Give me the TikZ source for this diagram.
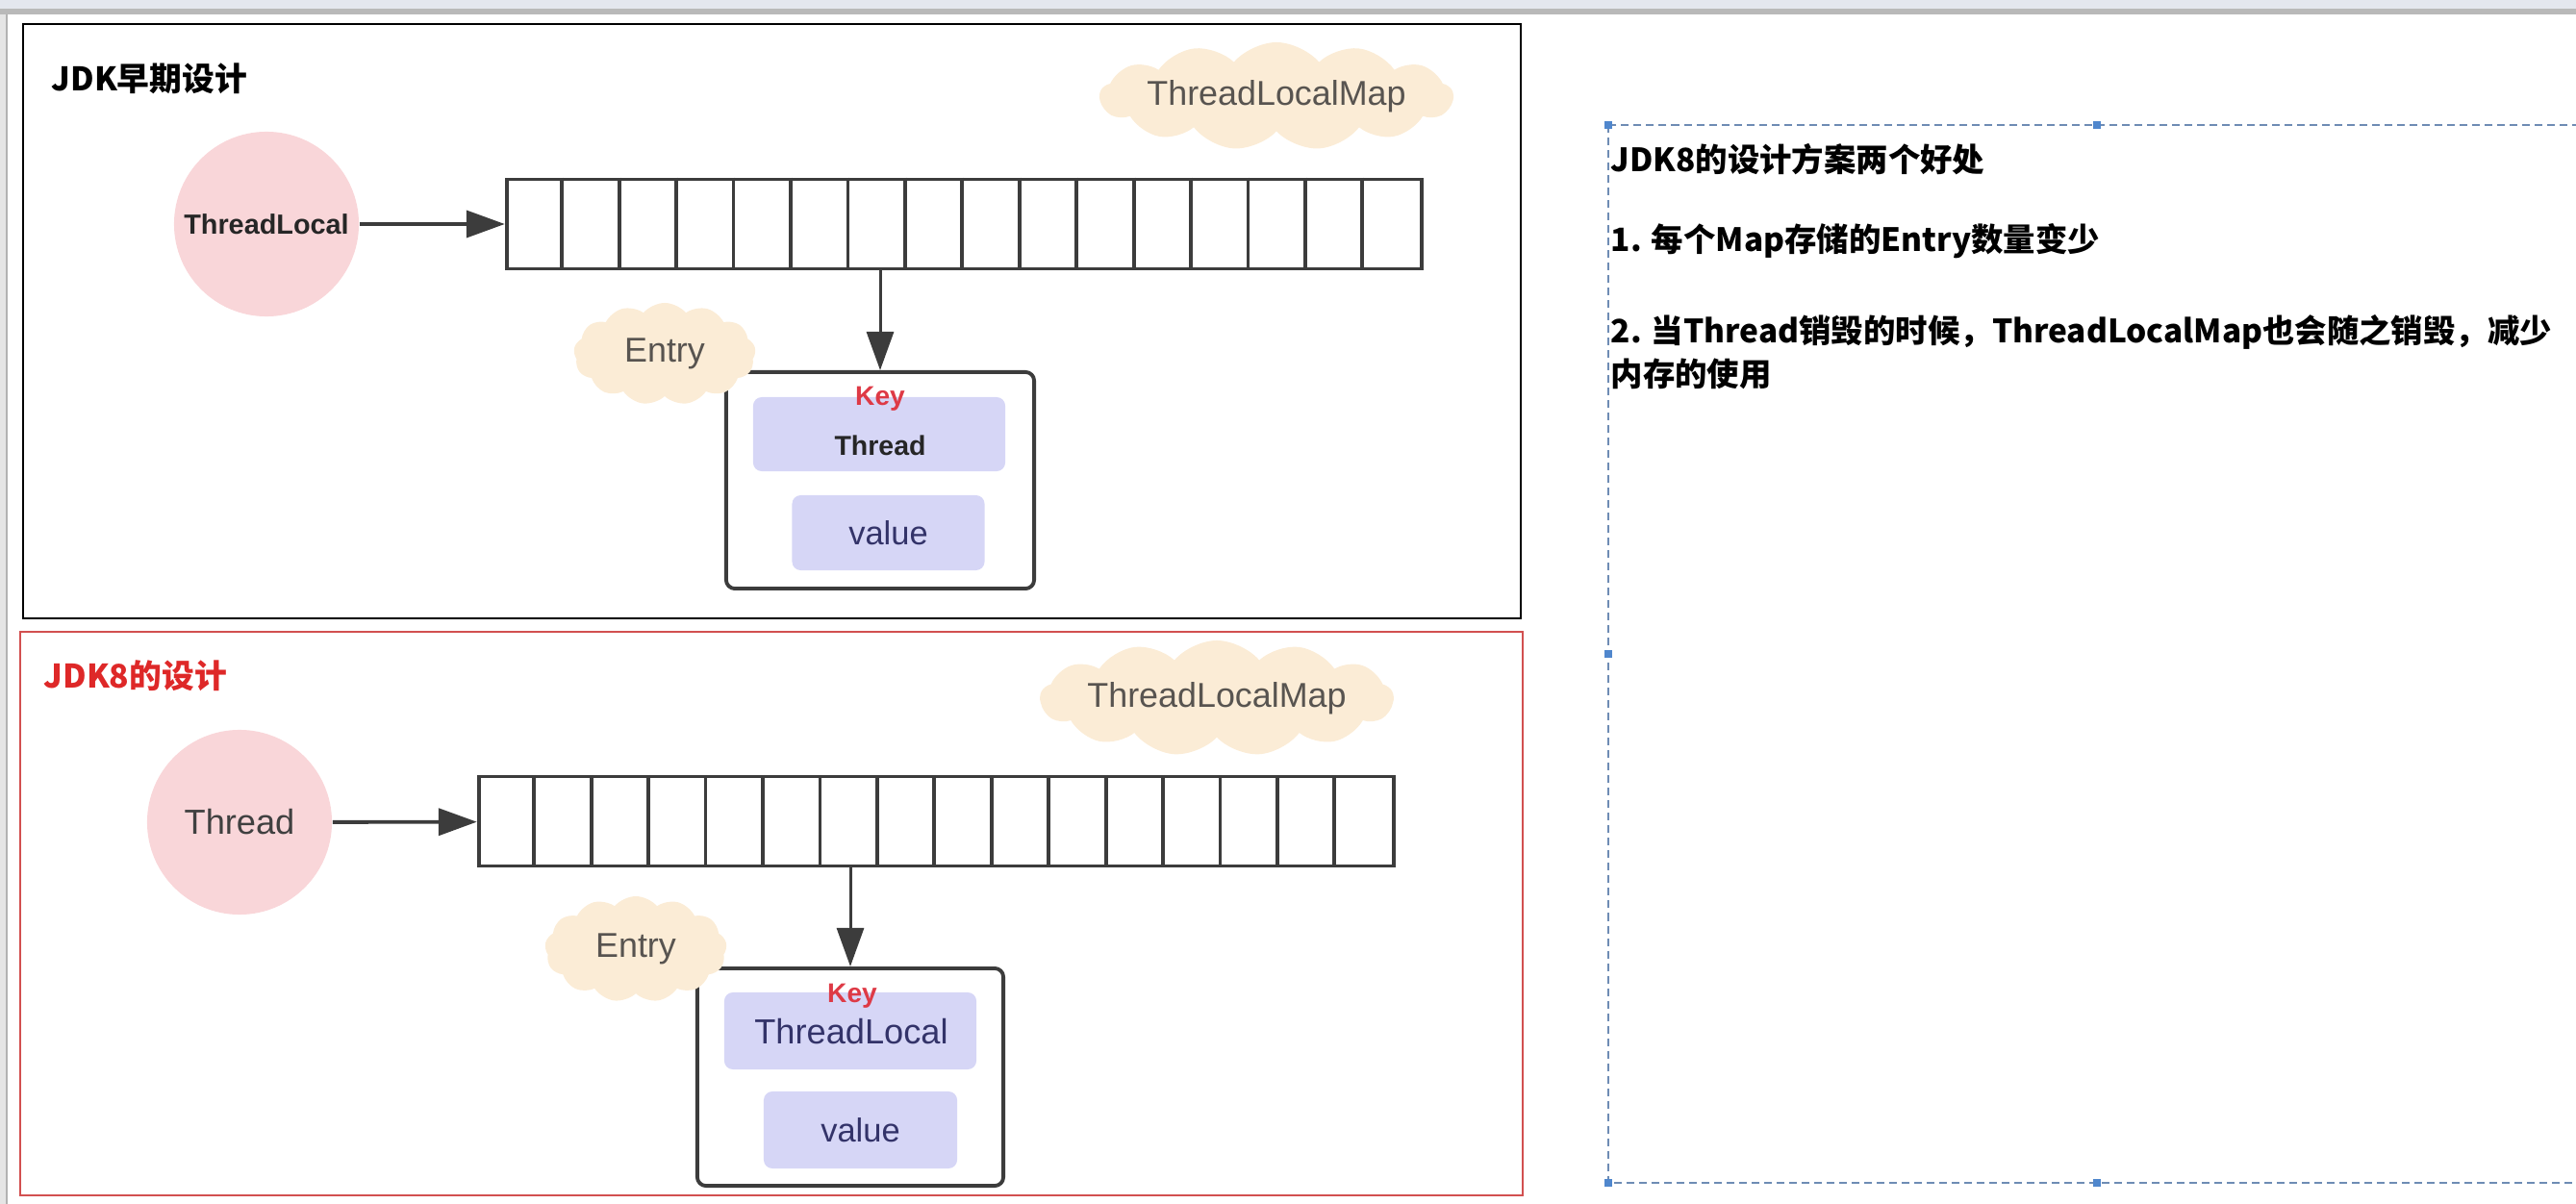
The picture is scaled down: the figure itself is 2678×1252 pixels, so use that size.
\documentclass[tikz,border=0pt]{standalone}
\usepackage{fontspec}
\setmainfont{Liberation Sans}
\newfontfamily\cjk{Noto Sans CJK SC}
\usetikzlibrary{shapes.symbols}
\usetikzlibrary{arrows.meta}
\usetikzlibrary{calc}

\definecolor{circlepink}{RGB}{249,214,217}
\definecolor{cloudtan}{RGB}{251,236,214}
\definecolor{keyblue}{RGB}{214,214,246}
\definecolor{linegrey}{RGB}{60,60,60}
\definecolor{labelgrey}{RGB}{88,84,80}
\definecolor{keyred}{RGB}{222,58,70}
\definecolor{framered}{RGB}{210,80,80}
\definecolor{titlered}{RGB}{222,40,40}
\definecolor{dashblue}{RGB}{110,140,180}
\definecolor{handleblue}{RGB}{80,135,205}
\definecolor{barlight}{RGB}{228,231,238}

\tikzset{
    obj/.style={circle, fill=circlepink, minimum size=1.92cm, inner sep=0pt},
    bubble/.style={cloud, cloud puffs=13, cloud puff arc=100, cloud ignores aspect, fill=cloudtan, inner sep=0pt},
    bubbletext/.style={text=labelgrey, inner sep=0pt, font=\fontsize{10.2}{12}\selectfont},
    slots/.style={draw=linegrey, line width=1.1pt, minimum width=9.51cm, minimum height=0.93cm, inner sep=0pt},
    entrybox/.style={draw=linegrey, line width=1.1pt, rounded corners=0.09cm, minimum width=3.2cm, minimum height=2.25cm, inner sep=0pt},
    field/.style={fill=keyblue, rounded corners=0.09cm, inner sep=0pt},
    arr/.style={draw=linegrey, -{Triangle[length=0.4cm,width=0.28cm]}},
    keylabel/.style={text=keyred, inner sep=0pt, font=\bfseries\fontsize{8}{10}\selectfont},
    title/.style={anchor=west, inner sep=0pt, font=\cjk\bfseries\fontsize{9.6}{12}\selectfont},
    note/.style={anchor=west, inner sep=0pt, font=\cjk\bfseries\fontsize{9.5}{12}\selectfont},
}

\begin{document}
\begin{tikzpicture}[x=0.01cm, y=-0.01cm]
    \useasboundingbox (0,0) rectangle (2678,1252);
    \fill[barlight] (0,0) rectangle (2678,9);
    \fill[gray!55] (0,9) rectangle (2678,15);
    \fill[gray!20] (0,15) rectangle (7,1252);
    \draw[gray!60] (7,15) -- (7,1252);

    \draw[black, line width=0.6pt] (24,25) rectangle (1581,643);
    \node[title] (titleA) at (53,82) {JDK早期设计};
    \node[bubble, minimum width=3.67cm, minimum height=1.12cm] (mapcloudA) at (1327,100) {};
    \node[bubbletext] (maplblA) at (mapcloudA.center) {ThreadLocalMap};
    \node[obj, text=black!85, font=\bfseries\fontsize{8.2}{10}\selectfont] (tlA) at (277,233) {ThreadLocal};
    \node[slots] (mapA) at (1002.5,233) {};
    \foreach \i in {1,...,15}
        \draw[linegrey, line width=1.1pt] ($(mapA.north west)+(\i*59.44,0)$) -- ($(mapA.south west)+(\i*59.44,0)$);
    \draw[arr, line width=1.1pt] (tlA) -- (mapA);
    \node[entrybox] (entryA) at (915,499.5) {};
    \node[field, minimum width=2.62cm, minimum height=0.77cm] (keyA) at (914,451.5) {};
    \node[keylabel] (keylblA) at (915,415) {Key};
    \node[text=black!85, font=\bfseries\fontsize{8.1}{10}\selectfont] (keyvalA) at (915,463) {Thread};
    \node[field, minimum width=2.0cm, minimum height=0.78cm, text=black!65!blue!60!gray, font=\fontsize{9.8}{12}\selectfont] (valA) at (923.5,554) {value};
    \draw[arr, line width=0.85pt] (mapA.south -| entryA.north) -- (entryA.north);
    \node[bubble, minimum width=1.89cm, minimum height=1.06cm] (entrycloudA) at (691,368) {};
    \node[bubbletext] (entrylblA) at (entrycloudA.center) {Entry};

    \draw[framered, line width=0.6pt] (21,657) rectangle (1583,1243);
    \node[title, text=titlered] (titleB) at (45,703) {JDK8的设计};
    \node[bubble, minimum width=3.67cm, minimum height=1.2cm] (mapcloudB) at (1265,726) {};
    \node[bubbletext] (maplblB) at (mapcloudB.center) {ThreadLocalMap};
    \node[obj, text=black!75, font=\fontsize{10.3}{12}\selectfont] (thB) at (249,855) {Thread};
    \node[slots] (mapB) at (973.5,854) {};
    \foreach \i in {1,...,15}
        \draw[linegrey, line width=1.1pt] ($(mapB.north west)+(\i*59.44,0)$) -- ($(mapB.south west)+(\i*59.44,0)$);
    \draw[arr, line width=1.1pt] (thB) -- (mapB);
    \node[entrybox, minimum width=3.18cm, minimum height=2.26cm] (entryB) at (884,1120) {};
    \node[field, minimum width=2.62cm, minimum height=0.8cm] (keyB) at (884,1072) {};
    \node[keylabel] (keylblB) at (886,1036) {Key};
    \node[text=black!65!blue!60!gray, font=\fontsize{10.3}{12}\selectfont] (keyvalB) at (885,1073) {ThreadLocal};
    \node[field, minimum width=2.01cm, minimum height=0.8cm, text=black!65!blue!60!gray, font=\fontsize{9.8}{12}\selectfont] (valB) at (894.5,1175) {value};
    \draw[arr, line width=0.85pt] (mapB.south -| entryB.north) -- (entryB.north);
    \node[bubble, minimum width=1.89cm, minimum height=1.1cm] (entrycloudB) at (661,987) {};
    \node[bubbletext] (entrylblB) at (entrycloudB.center) {Entry};

    \draw[dashblue, dash pattern=on 0.08cm off 0.05cm, line width=0.6pt] (1672,130) rectangle (2690,1230);
    \foreach \hx/\hy in {1672/130, 2180/130, 1672/680, 1672/1230, 2180/1230}
        \fill[handleblue] (\hx-4,\hy-4) rectangle (\hx+4,\hy+4);
    \node[note] (benefits) at (1674,166) {JDK8的设计方案两个好处};
    \node[note] (pointone) at (1674,251) {1. 每个Map存储的Entry数量变少};
    \node[note] (pointtwo) at (1674,345) {2. 当Thread销毁的时候，ThreadLocalMap也会随之销毁，减少};
    \node[note] (pointtwob) at (1674,389) {内存的使用};
\end{tikzpicture}
\end{document}
